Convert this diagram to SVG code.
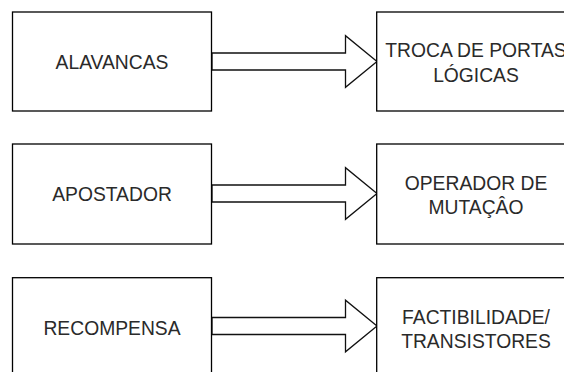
<svg xmlns="http://www.w3.org/2000/svg" width="564" height="372" viewBox="0 0 564 372">
  <style>
    .box { fill: #ffffff; stroke: #000000; stroke-width: 1.3; }
    .arrow { fill: #ffffff; stroke: #111111; stroke-width: 1.3; stroke-linejoin: miter; }
    .label { font-family: "Liberation Sans", Arial, sans-serif; font-size: 19.3px; fill: #2a2a2a; text-anchor: middle; }
  </style>
  <defs>
    <!-- block arrow pointing right, origin at the left end of the shaft centre line -->
    <polygon id="blockArrow" class="arrow" points="0,-8.5 133.5,-8.5 133.5,-25.8 165,0 133.5,25.8 133.5,8.5 0,8.5"/>
  </defs>
  <rect width="564" height="372" fill="#ffffff"/>

  <g id="connectors">
    <use href="#blockArrow" x="212" y="61.5"/>
    <use href="#blockArrow" x="212" y="193.5"/>
    <use href="#blockArrow" x="212" y="326"/>
  </g>

  <g id="alavancas">
    <rect class="box" x="12.5" y="12" width="199" height="99"/>
    <text class="label" x="112" y="68.5">ALAVANCAS</text>
  </g>
  <g id="troca-portas">
    <rect class="box" x="376.7" y="12" width="199" height="99"/>
    <text class="label" x="476" y="57.3">TROCA DE PORTAS</text>
    <text class="label" x="476" y="81.7">LÓGICAS</text>
  </g>

  <g id="apostador">
    <rect class="box" x="12.5" y="144" width="199" height="100"/>
    <text class="label" x="112" y="201">APOSTADOR</text>
  </g>
  <g id="operador-mutacao">
    <rect class="box" x="376.7" y="144" width="199" height="100"/>
    <text class="label" x="476" y="190">OPERADOR DE</text>
    <text class="label" x="476" y="214.4">MUTAÇÂO</text>
  </g>

  <g id="recompensa">
    <rect class="box" x="12.5" y="277.7" width="199" height="100"/>
    <text class="label" x="112" y="334.7">RECOMPENSA</text>
  </g>
  <g id="factibilidade">
    <rect class="box" x="376.7" y="277.7" width="199" height="100"/>
    <text class="label" x="476" y="323.7">FACTIBILIDADE/</text>
    <text class="label" x="476" y="348.1">TRANSISTORES</text>
  </g>
</svg>
